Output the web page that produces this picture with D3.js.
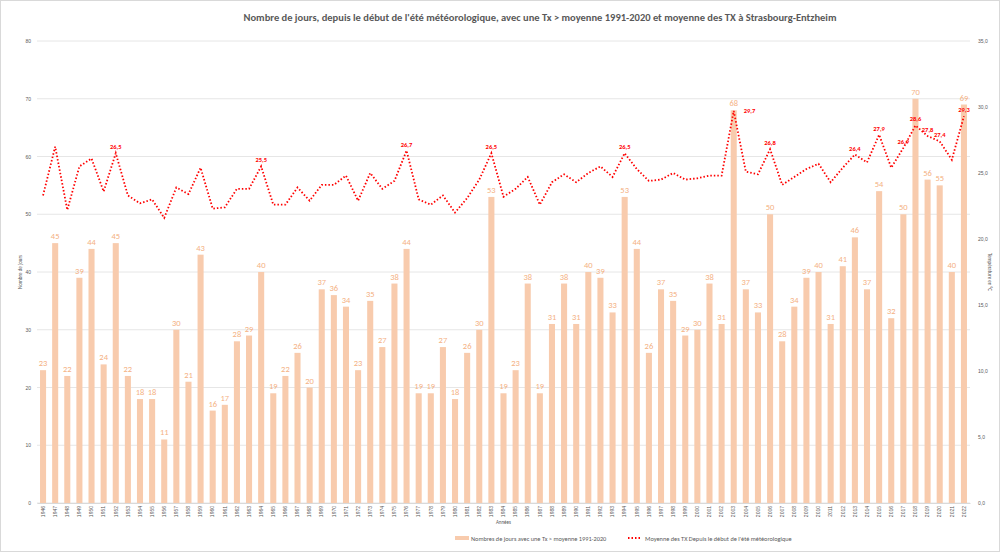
<!DOCTYPE html>
<html>
<head>
<meta charset="utf-8">
<script src="https://cdn.jsdelivr.net/npm/d3@7"></script>
<style>
  body { margin: 0; background: #fff; }
  svg { font-family: Carlito, "Liberation Sans Narrow", "Open Sans", sans-serif; }
</style>
</head>
<body>
<div class="chart"></div>
<script>
const years = d3.range(1946, 2023).map(String);
const days = [23, 45, 22, 39, 44, 24, 45, 22, 18, 18, 11, 30, 21, 43, 16, 17, 28, 29, 40, 19,
  22, 26, 20, 37, 36, 34, 23, 35, 27, 38, 44, 19, 19, 27, 18, 26, 30, 53, 19, 23,
  38, 19, 31, 38, 31, 40, 39, 33, 53, 44, 26, 37, 35, 29, 30, 38, 31, 68, 37, 33,
  50, 28, 34, 39, 40, 31, 41, 46, 37, 54, 32, 50, 70, 56, 55, 40, 69];
const meanTx = [23.3, 27.0, 22.2, 25.5, 26.1, 23.6, 26.5, 23.3, 22.7, 23.0, 21.6, 23.9, 23.4, 25.4, 22.3, 22.4, 23.8, 23.8, 25.5, 22.6,
  22.6, 23.9, 22.9, 24.1, 24.1, 24.8, 22.9, 25.0, 23.8, 24.4, 26.7, 23.0, 22.6, 23.3, 22.0, 23.1, 24.5, 26.5, 23.2, 23.8,
  24.7, 22.6, 24.3, 24.9, 24.3, 25.0, 25.5, 24.7, 26.5, 25.3, 24.4, 24.5, 25.0, 24.5, 24.6, 24.8, 24.8, 29.7, 25.1, 24.9,
  26.8, 24.1, 24.7, 25.3, 25.7, 24.3, 25.4, 26.4, 25.8, 27.9, 25.4, 26.9, 28.6, 27.8, 27.4, 26.0, 29.3];
const labelledYears = ['1952', '1964', '1976', '1983', '1994', '2003', '2006', '2013', '2015', '2017', '2018', '2019', '2020', '2022'];
const leftTicks = d3.range(0, 81, 10);
const rightTicks = d3.range(0, 36, 5);

const W = 1000, H = 552;
const plot = { left: 37, right: 970, top: 41, bottom: 503 };
const barColor = '#f8cbad';
const barLabelColor = '#f4b183';
const lineColor = '#ff0000';
const textGrey = '#595959';

const svg = d3.select('.chart')
  .append('svg')
    .attr('width', W)
    .attr('height', H);

svg.append('rect')
  .attr('x', 0.5).attr('y', 0.5)
  .attr('width', W - 1).attr('height', H - 1)
  .attr('fill', '#fff')
  .attr('stroke', '#d9d9d9');

const x = d3.scaleBand()
  .domain(years)
  .range([plot.left, plot.right])
  .paddingInner(0.5)
  .paddingOuter(0.25);

const y = d3.scaleLinear().domain([0, 80]).range([plot.bottom, plot.top]);
const y2 = d3.scaleLinear().domain([0, 35]).range([plot.bottom, plot.top]);

// grid
svg.append('g')
  .selectAll('line')
  .data(leftTicks)
  .join('line')
    .attr('x1', plot.left).attr('x2', plot.right)
    .attr('y1', d => y(d)).attr('y2', d => y(d))
    .attr('stroke', '#e6e6e6')
    .attr('stroke-width', 1);

// left axis
const yAxis = svg.append('g')
  .attr('transform', `translate(${plot.left - 2}, 0)`)
  .call(d3.axisLeft(y).tickValues(leftTicks).tickSize(0).tickPadding(4));
yAxis.select('.domain').remove();
yAxis.selectAll('text').attr('fill', textGrey).attr('font-size', 5);

// right axis
const y2Axis = svg.append('g')
  .attr('transform', `translate(${plot.right + 4}, 0)`)
  .call(d3.axisRight(y2).tickValues(rightTicks).tickSize(0).tickPadding(4)
    .tickFormat(d => d3.format('.1f')(d).replace('.', ',')));
y2Axis.select('.domain').remove();
y2Axis.selectAll('text').attr('fill', textGrey).attr('font-size', 5);

// bottom axis
const xAxis = svg.append('g')
  .attr('transform', `translate(0, ${plot.bottom})`)
  .call(d3.axisBottom(x).tickSize(0).tickPadding(3));
xAxis.select('.domain').attr('stroke', '#d9d9d9');
xAxis.selectAll('text')
  .attr('fill', textGrey)
  .attr('font-size', 5)
  .attr('text-anchor', 'end')
  .attr('dy', '0.35em')
  .attr('transform', 'translate(0,3) rotate(-90)')
  .attr('x', 0).attr('y', 0);

// bars
svg.append('g')
  .selectAll('rect')
  .data(years)
  .join('rect')
    .attr('x', d => x(d))
    .attr('y', (d, i) => y(days[i]))
    .attr('width', x.bandwidth())
    .attr('height', (d, i) => plot.bottom - y(days[i]))
    .attr('fill', barColor);

svg.append('g')
  .selectAll('text')
  .data(years)
  .join('text')
    .attr('x', d => x(d) + x.bandwidth() / 2)
    .attr('y', (d, i) => y(days[i]) - 4)
    .attr('text-anchor', 'middle')
    .attr('font-size', 8.5)
    .attr('fill', barLabelColor)
    .text((d, i) => days[i]);

// line
const line = d3.line()
  .x((d, i) => x(years[i]) + x.bandwidth() / 2)
  .y(d => y2(d));

svg.append('path')
  .datum(meanTx)
  .attr('d', line)
  .attr('fill', 'none')
  .attr('stroke', lineColor)
  .attr('stroke-width', 1.8)
  .attr('stroke-dasharray', '1.5 2');

svg.append('g')
  .selectAll('text')
  .data(labelledYears)
  .join('text')
    .attr('x', d => x(d) + x.bandwidth() / 2 + (d === '2003' ? 10 : 0))
    .attr('y', d => y2(meanTx[years.indexOf(d)]) - (d === '2003' ? -2 : 4))
    .attr('text-anchor', d => d === '2003' ? 'start' : 'middle')
    .attr('font-size', 6.5)
    .attr('font-weight', 'bold')
    .attr('fill', lineColor)
    .text(d => d3.format('.1f')(meanTx[years.indexOf(d)]).replace('.', ','));

// titles
svg.append('text')
  .attr('x', 540).attr('y', 21)
  .attr('text-anchor', 'middle')
  .attr('font-size', 10.5)
  .attr('font-weight', 'bold')
  .attr('fill', textGrey)
  .text("Nombre de jours, depuis le début de l'été météorologique, avec une Tx > moyenne 1991-2020 et moyenne des TX  à Strasbourg-Entzheim");

svg.append('text')
  .attr('transform', `translate(22, ${(plot.top + plot.bottom) / 2}) rotate(-90)`)
  .attr('text-anchor', 'middle')
  .attr('font-size', 5)
  .attr('fill', textGrey)
  .text('Nombre de jours');

svg.append('text')
  .attr('transform', `translate(988, ${(plot.top + plot.bottom) / 2}) rotate(90)`)
  .attr('text-anchor', 'middle')
  .attr('font-size', 5)
  .attr('fill', textGrey)
  .text('Température en °C');

svg.append('text')
  .attr('x', (plot.left + plot.right) / 2).attr('y', 524)
  .attr('text-anchor', 'middle')
  .attr('font-size', 5)
  .attr('fill', textGrey)
  .text('Années');

// legend
const legend = svg.append('g').attr('font-size', 6.3).attr('fill', textGrey);
legend.append('rect')
  .attr('x', 455).attr('y', 536).attr('width', 14).attr('height', 4)
  .attr('fill', barColor);
legend.append('text')
  .attr('x', 471).attr('y', 540.5)
  .text('Nombres de jours avec une Tx > moyenne 1991-2020');
legend.append('line')
  .attr('x1', 628).attr('x2', 642).attr('y1', 538).attr('y2', 538)
  .attr('stroke', lineColor)
  .attr('stroke-width', 1.8)
  .attr('stroke-dasharray', '1.5 2');
legend.append('text')
  .attr('x', 645).attr('y', 540.5)
  .text("Moyenne des TX Depuis le début de l'été météorologique");
</script>
</body>
</html>
